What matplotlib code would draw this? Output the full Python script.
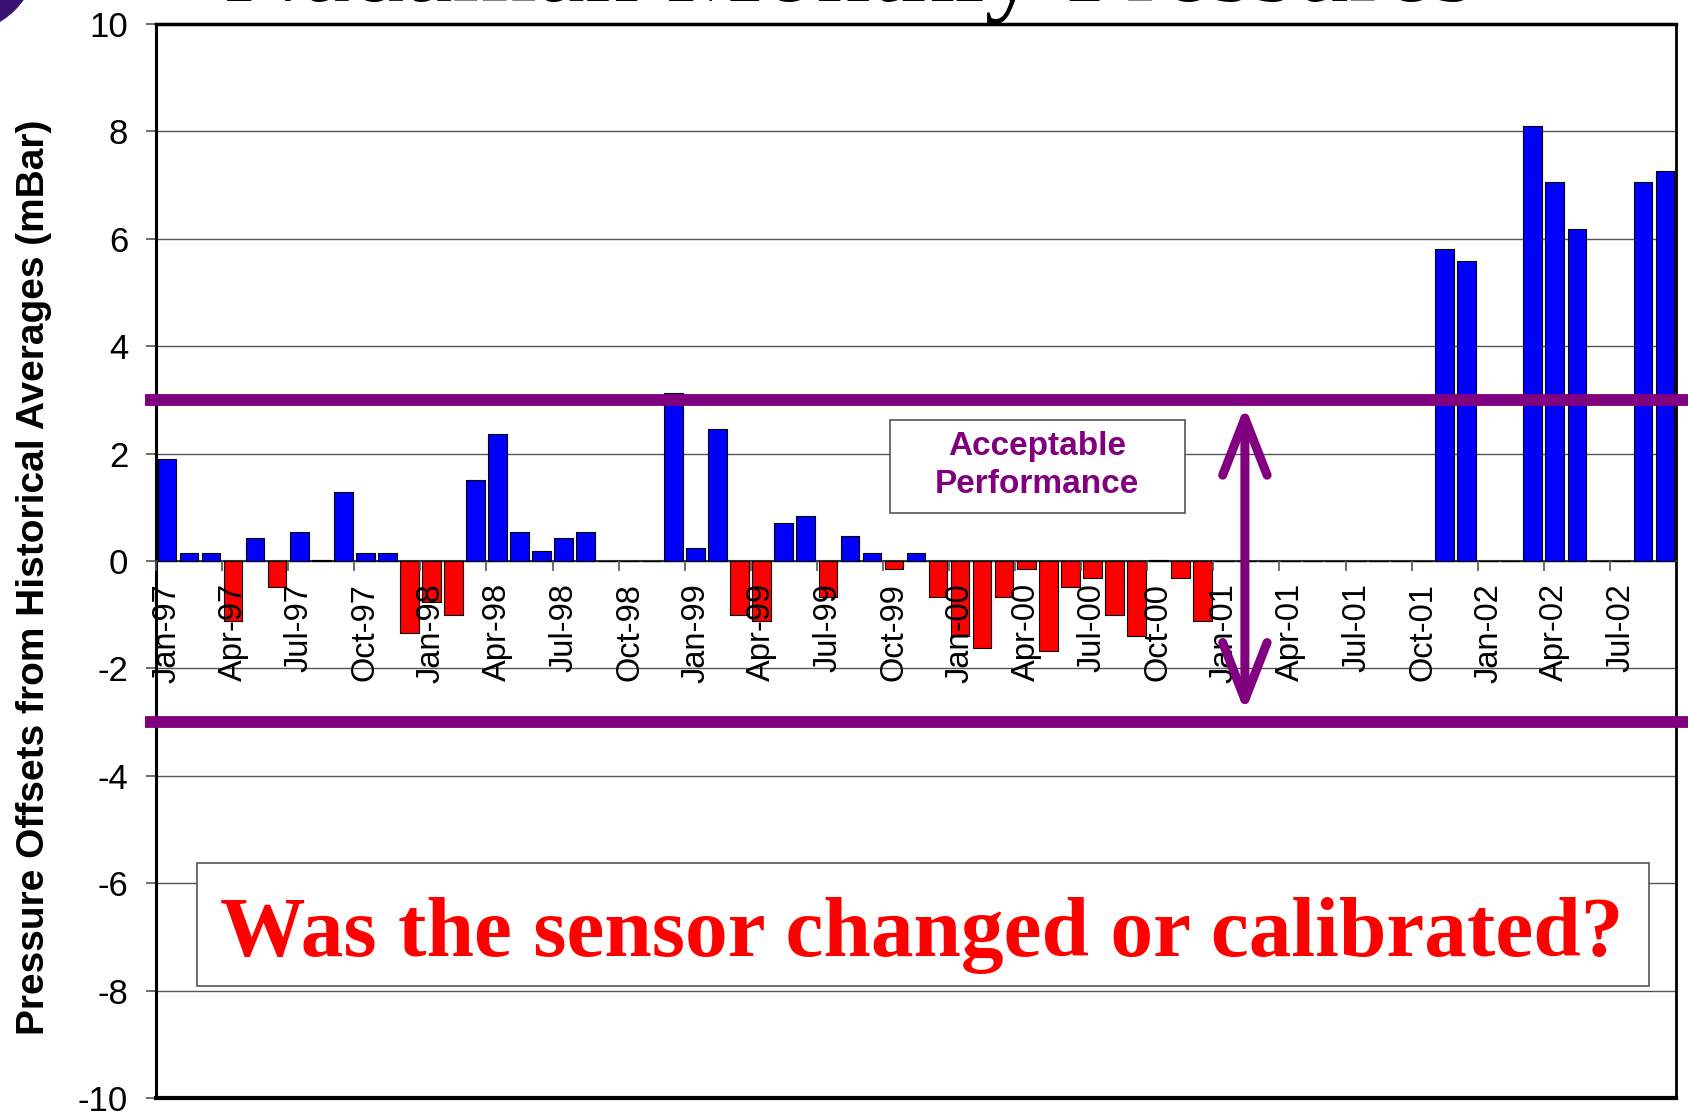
import matplotlib.pyplot as plt
import numpy as np
from matplotlib.patches import Circle, Rectangle
from matplotlib.ticker import MultipleLocator

# Monthly pressure offsets from historical averages (mBar), Jan-97 .. Sep-02
offsets_1997 = [1.90, 0.14, 0.14, -1.12, 0.42, -0.49, 0.54, 0.01, 1.28, 0.14, 0.14, -1.34]
offsets_1998 = [-0.77, -1.00, 1.50, 2.36, 0.54, 0.19, 0.42, 0.54, 0.0, 0.0, 0.0, 3.12]
offsets_1999 = [0.25, 2.46, -1.00, -1.12, 0.70, 0.83, -0.67, 0.47, 0.14, -0.15, 0.14, -0.67]
offsets_2000 = [-1.40, -1.62, -0.67, -0.15, -1.68, -0.49, -0.32, -1.00, -1.40, 0.01, -0.32, -1.12]
offsets_2001 = [0.0, 0.0, 0.0, 0.0, 0.0, 0.0, 0.0, 0.0, 0.0, 0.0, 5.81, 5.58]
offsets_2002 = [0.0, 0.0, 8.10, 7.05, 6.18, 0.0, 0.0, 7.05, 7.27]

offsets = np.array(
    offsets_1997 + offsets_1998 + offsets_1999 + offsets_2000 + offsets_2001 + offsets_2002
)

tick_labels = [
    "Jan-97", "Apr-97", "Jul-97", "Oct-97",
    "Jan-98", "Apr-98", "Jul-98", "Oct-98",
    "Jan-99", "Apr-99", "Jul-99", "Oct-99",
    "Jan-00", "Apr-00", "Jul-00", "Oct-00",
    "Jan-01", "Apr-01", "Jul-01", "Oct-01",
    "Jan-02", "Apr-02", "Jul-02",
]

acceptable_limits = [3.0, -3.0]

PURPLE = "#800080"

plt.rcParams["font.family"] = ["Liberation Sans", "DejaVu Sans"]
plt.rcParams["axes.unicode_minus"] = False

fig = plt.figure(figsize=(16.88, 11.17), dpi=100)
ax = fig.add_axes([0.0924, 0.017, 0.9005, 0.9615])

# Bars: blue above zero, red below
x = np.arange(len(offsets))
colors = np.where(offsets < 0, "#ff0000", "#0000ff")
ax.bar(x, offsets, width=0.85, color=colors, edgecolor="black", linewidth=0.8, zorder=3)

ax.set_xlim(-0.5, len(offsets) - 0.5)
ax.set_ylim(-10, 10)
ax.yaxis.set_major_locator(MultipleLocator(2))
ax.grid(axis="y", color="#555555", linewidth=1.0)
ax.set_axisbelow(True)
# category labels are drawn over the bars, as in the original
ax.xaxis.set_zorder(3.5)

# Category axis sits on the zero line
ax.set_xticks(x[::3])
ax.set_xticklabels(tick_labels)
ax.set_xticks(x[::3] - 0.5, minor=True)
ax.tick_params(axis="x", which="major", length=0, pad=16, labelsize=23.5, labelrotation=90)
ax.tick_params(axis="x", which="minor", length=7, width=1.2, color="#555555", direction="out")
ax.tick_params(axis="y", length=7, width=1.2, color="#555555", pad=13, labelsize=25)

ax.spines["bottom"].set_position(("data", 0))
ax.spines["bottom"].set_color("#333333")
ax.spines["bottom"].set_linewidth(1.5)
ax.spines["left"].set_linewidth(2.2)
ax.spines["top"].set_linewidth(2.5)
ax.spines["right"].set_linewidth(2.0)
ax.axhline(-10, color="black", linewidth=3, clip_on=False, zorder=5)

ax.set_ylabel(
    "Pressure Offsets from Historical Averages (mBar)",
    fontsize=28, fontweight="bold", va="center",
)
ax.yaxis.set_label_coords(-0.0800, 0.4846)

# Acceptable performance band
for level in acceptable_limits:
    ax.plot([-0.007, 1.01], [level, level], transform=ax.get_yaxis_transform(),
            color=PURPLE, linewidth=8.5, clip_on=False, zorder=6,
            solid_capstyle="butt")

ax.annotate(
    "", xy=(48.93, -2.81), xytext=(48.93, 2.89),
    arrowprops=dict(arrowstyle="<->,head_length=4.1,head_width=1.6",
                    color=PURPLE, lw=6.5, shrinkA=0, shrinkB=0, mutation_scale=10),
    zorder=7,
)

ax.add_patch(Rectangle((32.82, 0.89), 13.39, 1.74, facecolor="white",
                       edgecolor="#555555", linewidth=1.2, zorder=4))
ax.text(39.5, 1.78, "Acceptable\nPerformance", color=PURPLE, fontsize=24,
        fontweight="bold", ha="center", va="center", linespacing=1.3, zorder=5)

ax.add_patch(Rectangle((1.36, -7.91), 65.91, 2.29, facecolor="white",
                       edgecolor="#555555", linewidth=1.2, zorder=4))
ax.text(34.27, -7.36, "Was the sensor changed or calibrated?", color="#ff0000",
        fontsize=61.5, fontweight="bold", family="Liberation Serif",
        ha="center", va="baseline", zorder=5)

# Slide title, mostly cut off at the top edge
fig.text(850 / 1688, 0.9995, "Nadaman Monthly Pressures", family="Liberation Serif",
         fontsize=78, ha="center", va="baseline")
fig.add_artist(Circle((-0.40, 11.62), 0.78, transform=fig.dpi_scale_trans,
                      facecolor="#3b1070", edgecolor="none"))

fig.savefig("out.png", dpi=100)
